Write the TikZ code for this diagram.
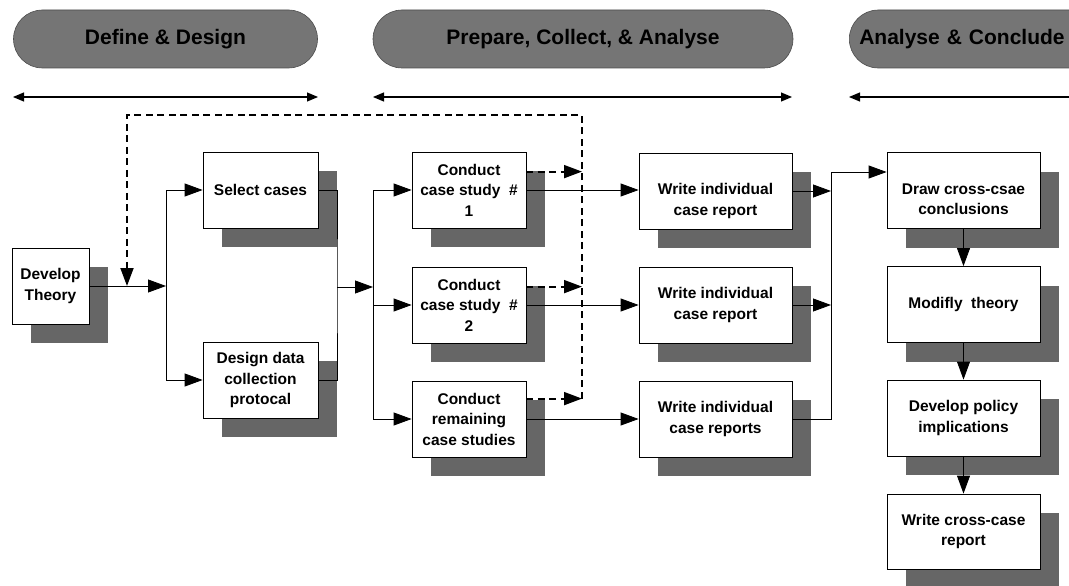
\documentclass[tikz,border=0pt]{standalone}
\usepackage{fontspec}
\setsansfont{Liberation Sans}
\usetikzlibrary{arrows.meta,shadows,calc}

\definecolor{pillgray}{gray}{0.46}
\definecolor{shadegray}{gray}{0.40}

% two-line label set a little below the middle of its box
\newcommand\lowlines[1]{\raisebox{-10pt}[\height][\depth]{\begin{tabular}{@{}c@{}}#1\end{tabular}}}

\begin{document}
\begin{tikzpicture}[x=1pt,y=-1pt,
  pill/.style={draw=black!70, line width=0.6pt, fill=pillgray, rounded corners=29pt,
    minimum height=58pt, inner sep=0pt,
    font=\sffamily\bfseries\fontsize{21}{24}\selectfont},
  stepbox/.style={draw=black, line width=0.8pt, fill=white, minimum height=76pt,
    inner sep=2pt, align=center,
    font=\sffamily\bfseries\fontsize{15.5}{20.5}\selectfont,
    drop shadow={shadow xshift=19pt, shadow yshift=-19pt, fill=shadegray, opacity=1}},
  narrowbox/.style={stepbox, minimum width=77pt},
  midbox/.style={stepbox, minimum width=115pt},
  widebox/.style={stepbox, minimum width=153pt},
  link/.style={line width=0.8pt, draw=black},
  arr/.style={link, -{Triangle[length=18pt,width=13pt]}},
  fbline/.style={line width=1.8pt, dash pattern=on 7pt off 4.5pt},
  fbarr/.style={fbline, -{Triangle[length=18pt,width=13pt]}},
  span/.style={line width=1.1pt, {Triangle[length=11pt,width=9pt]}-{Triangle[length=11pt,width=9pt]}}
]
\useasboundingbox (0,0) rectangle (1069,586);
\clip (0,0) rectangle (1069,586);

% phase banners
\node[pill, minimum width=304pt] (ph1) at (165.5,39) {Define \& Design};
\node[pill, minimum width=420pt] (ph2) at (583,39) {Prepare, Collect, \& Analyse};
\node[pill, anchor=west, text width=262pt, align=left, inner xsep=10pt] (ph3) at (849,39) {Analyse \& Conclude};

% phase extents
\coordinate (s1l) at (13,97);  \coordinate (s1r) at (318,97);
\coordinate (s2l) at (373,97); \coordinate (s2r) at (792,97);
\coordinate (s3l) at (849,97); \coordinate (s3r) at (1080,97);
\draw[span] (s1l) -- (s1r);
\draw[span] (s2l) -- (s2r);
\draw[span] (s3l) -- (s3r);

% process steps
\node[narrowbox] (dev) at (50.5,286) {Develop\\Theory};
\node[midbox] (sel) at (260.5,190) {Select cases};
\node[midbox] (dd) at (260.5,380) {Design data\\collection\\protocal};
\node[midbox, minimum width=114pt] (cs1) at (469,190) {Conduct\\case study\ \ \#\\1};
\node[midbox, minimum width=114pt] (cs2) at (469,305) {Conduct\\case study\ \ \#\\2};
\node[midbox, minimum width=114pt] (cs3) at (469,419) {Conduct\\remaining\\case studies};
\node[widebox] (w1) at (715.5,191) {\lowlines{Write individual\\case report}};
\node[widebox] (w2) at (715.5,305) {Write individual\\case report};
\node[widebox] (w3) at (715.5,419) {Write individual\\case reports};
\node[widebox] (dc) at (963.5,190.5) {\lowlines{Draw cross-csae\\conclusions}};
\node[widebox] (mt) at (963.5,304.5) {Modifly\ \ theory};
\node[widebox] (dp) at (963.5,418) {Develop policy\\implications};
\node[widebox, minimum height=75pt] (wc) at (963.5,531.5) {Write cross-case\\report};

% junction points
\coordinate (jA) at (166,286);
\coordinate (jB) at (337,287);
\coordinate (jC) at (373,287);
\coordinate (jE) at (831,172);

% define & design
\draw[arr] (dev.east) -- (jA);
\draw[arr] (jA) |- (sel.west);
\draw[arr] (jA) |- (dd.west);
\draw[link] (sel.east) -| (jB) |- (dd.east);
\draw[arr] (jB) -- (jC);

% case studies
\draw[arr] (jC) |- (cs1.west);
\draw[arr] (jC) |- (cs2.west);
\draw[arr] (jC) |- (cs3.west);
\draw[arr] (cs1.east) -- (cs1.east -| w1.west);
\draw[arr] (cs2.east) -- (cs2.east -| w2.west);
\draw[arr] (cs3.east) -- (cs3.east -| w3.west);

% reports feed the cross-case analysis
\draw[arr] (w1.east) -- (w1.east -| jE);
\draw[arr] (w2.east) -- (w2.east -| jE);
\draw[arr] (w3.east) -| (jE) -- (jE -| dc.west);
\draw[arr] (dc.south) -- (mt.north);
\draw[arr] (mt.south) -- (dp.north);
\draw[arr] (dp.south) -- (wc.north);

% feedback loop back to theory
\coordinate (fbR) at (582,115);
\coordinate (fbL) at (127,115);
\path ([yshift=-20pt]cs1.north east) coordinate (d1)
      ([yshift=-20pt]cs2.north east) coordinate (d2)
      ([yshift=-18pt]cs3.north east) coordinate (d3);
\draw[fbarr] (d1) -- (d1 -| fbR);
\draw[fbarr] (d2) -- (d2 -| fbR);
\draw[fbarr] (d3) -- (d3 -| fbR);
\draw[fbarr] (d3 -| fbR) -- (fbR) -- (fbL) -- (fbL |- dev.east);
\end{tikzpicture}
\end{document}
